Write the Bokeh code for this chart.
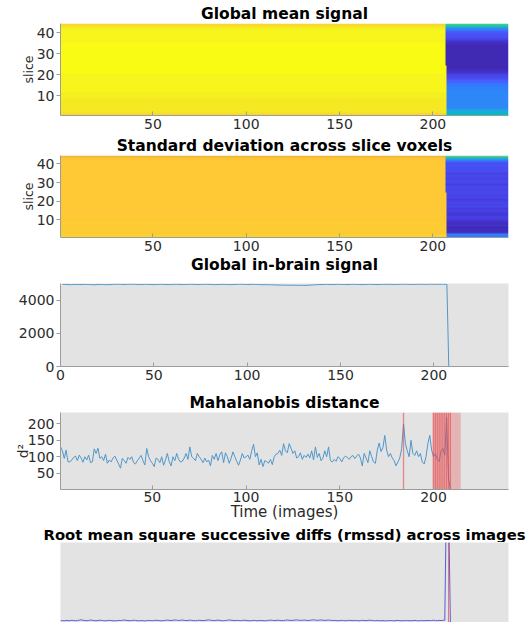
import numpy as np
from bokeh.plotting import figure
from bokeh.layouts import column
from bokeh.models import LinearColorMapper, FixedTicker, Range1d, Title
from bokeh.embed import file_html
from bokeh.resources import INLINE

# ---------------- data ----------------
n_slices = 44
n_images = 240
last_brain_image_upper = 206   # slices 25..44
last_brain_image_lower = 207   # slices 1..24
split_slice = 24

# per-slice colour-scale values (0..1) of the slice-mean heat map, slice 1 first
mean_brain = [0.90, 0.93, 0.94, 0.95, 0.95, 0.95, 0.95, 0.95, 0.96, 0.96,
              0.96, 0.97, 0.97, 0.97, 0.98, 0.98, 0.98, 0.98, 0.98, 0.98,
              0.99, 0.99, 0.99, 0.99, 0.99, 0.99, 0.99, 0.99, 0.99, 0.99,
              0.99, 0.99, 0.99, 0.99, 0.99, 0.98, 0.98, 0.98, 0.98, 0.97,
              0.97, 0.96, 0.93, 0.90]
mean_after = [0.47, 0.45, 0.40, 0.30, 0.29, 0.29, 0.29, 0.29, 0.29, 0.29,
              0.29, 0.29, 0.28, 0.28, 0.26, 0.22, 0.18, 0.14, 0.12, 0.10,
              0.06, 0.04, 0.03, 0.02, 0.02, 0.02, 0.02, 0.02, 0.02, 0.02,
              0.02, 0.02, 0.03, 0.03, 0.04, 0.06, 0.10, 0.13, 0.15, 0.17,
              0.22, 0.30, 0.50, 0.58]
# per-slice colour-scale values of the standard-deviation heat map
std_brain = [0.90, 0.88, 0.87, 0.89, 0.86, 0.88, 0.87, 0.89, 0.86, 0.87,
             0.86, 0.86, 0.86, 0.86, 0.86, 0.86, 0.86, 0.86, 0.86, 0.86,
             0.86, 0.86, 0.86, 0.86, 0.86, 0.86, 0.86, 0.86, 0.86, 0.86,
             0.86, 0.86, 0.86, 0.86, 0.86, 0.86, 0.86, 0.86, 0.87, 0.86,
             0.86, 0.87, 0.85, 0.80]
std_after = [0.28, 0.27, 0.06, 0.03, 0.04, 0.03, 0.05, 0.04, 0.06, 0.08,
             0.10, 0.09, 0.07, 0.08, 0.10, 0.09, 0.11, 0.10, 0.12, 0.10,
             0.09, 0.11, 0.10, 0.12, 0.11, 0.10, 0.12, 0.11, 0.09, 0.11,
             0.12, 0.10, 0.11, 0.12, 0.10, 0.13, 0.14, 0.13, 0.15, 0.14,
             0.16, 0.26, 0.42, 0.62]

global_signal = [
    4982, 4976, 4970, 4964, 4960, 4963, 4970, 4974, 4971, 4966,
    4968, 4974, 4979, 4975, 4969, 4962, 4957, 4955, 4959, 4966,
    4971, 4969, 4963, 4958, 4956, 4961, 4968, 4975, 4980, 4983,
    4985, 4981, 4975, 4971, 4974, 4979, 4984, 4987, 4983, 4978,
    4974, 4970, 4966, 4969, 4975, 4980, 4977, 4971, 4965, 4961,
    4964, 4970, 4976, 4981, 4979, 4973, 4968, 4964, 4967, 4973,
    4978, 4982, 4980, 4975, 4969, 4966, 4970, 4976, 4981, 4984,
    4982, 4976, 4970, 4967, 4971, 4977, 4982, 4985, 4981, 4975,
    4970, 4966, 4962, 4965, 4971, 4977, 4980, 4976, 4970, 4965,
    4962, 4966, 4972, 4978, 4983, 4986, 4984, 4979, 4974, 4970,
    4973, 4978, 4982, 4979, 4973, 4967, 4962, 4958, 4955, 4957,
    4961, 4956, 4950, 4946, 4942, 4939, 4936, 4933, 4931, 4930,
    4928, 4926, 4925, 4924, 4923, 4922, 4921, 4920, 4918, 4916,
    4918, 4922, 4928, 4935, 4942, 4949, 4955, 4960, 4964, 4967,
    4970, 4974, 4977, 4975, 4971, 4968, 4972, 4977, 4981, 4978,
    4973, 4968, 4965, 4969, 4974, 4979, 4983, 4980, 4975, 4970,
    4966, 4963, 4967, 4972, 4976, 4980, 4977, 4972, 4968, 4965,
    4968, 4973, 4978, 4982, 4985, 4982, 4977, 4972, 4969, 4972,
    4977, 4982, 4986, 4989, 4986, 4981, 4976, 4973, 4977, 4982,
    4985, 4988, 4984, 4979, 4975, 4978, 4983, 4987, 4990, 4986,
    4981, 4977, 4980, 4985, 4988, 4984, 4980,
    0, 0, 0, 0, 0, 0, 0, 0, 0, 0, 0, 0, 0, 0, 0, 0, 0,
    0, 0, 0, 0, 0, 0, 0, 0, 0, 0, 0, 0, 0, 0, 0, 0]

mahal = [
    130, 118, 95, 120, 85, 84, 90, 98, 102, 88,
    105, 96, 83, 100, 90, 105, 82, 84, 124, 110,
    126, 95, 100, 88, 108, 80, 90, 84, 96, 102,
    90, 78, 65, 95, 88, 80, 98, 92, 100, 82,
    78, 88, 96, 104, 88, 75, 125, 100, 88, 80,
    70, 96, 92, 82, 100, 74, 90, 110, 85, 72,
    100, 88, 110, 92, 84, 86, 96, 110, 92, 130,
    100, 95, 88, 110, 100, 92, 82, 96, 84, 90,
    72, 104, 92, 110, 88, 106, 115, 82, 112, 100,
    80, 95, 115, 100, 86, 74, 90, 110, 96, 100,
    105, 92, 118, 138, 100, 112, 75, 92, 70, 88,
    85, 80, 92, 76, 100, 108, 110, 120, 104, 140,
    118, 112, 140, 126, 110, 118, 96, 100, 112, 92,
    104, 98, 108, 96, 118, 90, 130, 98, 110, 88,
    96, 118, 100, 130, 88, 84, 92, 86, 100, 95,
    84, 96, 102, 98, 92, 100, 104, 94, 102, 108,
    96, 72, 110, 96, 82, 118, 100, 84, 80, 120,
    142, 116, 128, 165, 120, 100, 110, 96, 88, 72,
    84, 96, 125, 200, 140, 118, 100, 150, 110, 104,
    118, 100, 110, 84, 78, 100, 140, 165, 120, 100,
    110, 92, 85, 118, 125, 105, 220, 35,
    0, 0, 0, 0, 0, 0, 0, 0, 0, 0, 0, 0, 0, 0, 0, 0,
    0, 0, 0, 0, 0, 0, 0, 0, 0, 0, 0, 0, 0, 0, 0, 0]
mahal_flag_lines = [184, 200, 201, 202, 203, 204, 205, 206, 207, 208, 209]
mahal_flag_band = [200, 201, 202, 203, 204, 205, 206, 207, 208, 209,
                   210, 211, 212, 213, 214]

rmssd = [
    2.1, 2.4, 2.0, 2.6, 2.3, 2.2, 2.8, 2.5, 2.1, 2.4,
    2.9, 3.4, 2.8, 2.5, 2.2, 2.6, 3.0, 2.7, 2.4, 2.2,
    2.5, 2.9, 2.6, 2.3, 2.1, 2.4, 2.7, 2.5, 2.2, 2.0,
    2.3, 2.6, 2.4, 2.8, 3.1, 2.7, 2.4, 2.2, 2.5, 2.9,
    2.6, 2.3, 2.1, 2.4, 2.2, 2.0, 2.3, 2.6, 2.4, 2.2,
    2.5, 2.8, 2.6, 2.3, 2.1, 2.4, 2.7, 3.0, 2.7, 2.4,
    2.8, 3.2, 2.9, 2.5, 2.8, 3.1, 2.7, 2.4, 2.6, 3.0,
    2.7, 2.4, 2.2, 2.5, 2.8, 2.5, 2.3, 2.6, 2.9, 3.3,
    2.9, 2.6, 2.3, 2.7, 3.0, 2.6, 2.4, 2.2, 2.5, 2.8,
    3.2, 2.9, 2.6, 2.4, 2.7, 2.5, 2.3, 2.6, 2.9, 2.6,
    2.3, 2.1, 2.4, 2.7, 2.5, 2.2, 2.4, 2.6, 2.3, 2.1,
    2.4, 2.7, 3.0, 2.7, 2.4, 2.6, 2.9, 2.6, 2.3, 2.5,
    2.8, 3.1, 2.8, 2.5, 2.7, 3.0, 3.3, 2.9, 2.6, 2.8,
    3.1, 2.8, 2.5, 2.7, 3.0, 3.4, 3.0, 2.7, 2.9, 3.2,
    2.9, 2.6, 2.8, 3.1, 2.8, 2.5, 2.7, 2.4, 2.2, 2.5,
    2.7, 2.4, 2.2, 2.5, 2.8, 2.5, 2.3, 2.6, 2.4, 2.2,
    2.4, 2.7, 2.5, 2.3, 2.6, 2.9, 2.6, 2.4, 2.2, 2.5,
    2.3, 2.1, 2.4, 2.2, 2.0, 2.3, 2.5, 2.3, 2.1, 2.4,
    2.6, 2.3, 2.1, 2.4, 2.2, 2.5, 2.3, 2.1, 2.4, 2.6,
    2.3, 2.1, 2.3, 2.5, 2.2, 2.4, 2.6, 2.3, 2.5, 2.8,
    2.5, 2.3, 2.6, 2.4, 2.7, 3.0, 175, 150,
    0, 0, 0, 0, 0, 0, 0, 0, 0, 0, 0, 0, 0, 0, 0, 0,
    0, 0, 0, 0, 0, 0, 0, 0, 0, 0, 0, 0, 0, 0, 0]
rmssd_flags = [208]

slice_ticks = [10, 20, 30, 40]
image_ticks = [50, 100, 150, 200]
image_ticks0 = [0, 50, 100, 150, 200]
signal_ticks = [0, 2000, 4000]
mahal_ticks = [50, 100, 150, 200]

# ---------------- colour map (parula) ----------------
PARULA = [
    (0.2422, 0.1504, 0.6603), (0.2504, 0.1650, 0.7076), (0.2578, 0.1818, 0.7511),
    (0.2647, 0.1978, 0.7952), (0.2706, 0.2147, 0.8364), (0.2751, 0.2342, 0.8710),
    (0.2783, 0.2559, 0.8991), (0.2803, 0.2782, 0.9221), (0.2813, 0.3006, 0.9414),
    (0.2810, 0.3228, 0.9579), (0.2795, 0.3447, 0.9717), (0.2760, 0.3667, 0.9829),
    (0.2699, 0.3892, 0.9906), (0.2602, 0.4123, 0.9952), (0.2440, 0.4358, 0.9988),
    (0.2206, 0.4603, 0.9973), (0.1963, 0.4847, 0.9892), (0.1834, 0.5074, 0.9798),
    (0.1786, 0.5289, 0.9682), (0.1764, 0.5499, 0.9520), (0.1687, 0.5703, 0.9359),
    (0.1540, 0.5902, 0.9218), (0.1460, 0.6091, 0.9079), (0.1380, 0.6276, 0.8973),
    (0.1248, 0.6459, 0.8883), (0.1113, 0.6635, 0.8763), (0.0952, 0.6798, 0.8598),
    (0.0689, 0.6948, 0.8394), (0.0297, 0.7082, 0.8163), (0.0036, 0.7203, 0.7917),
    (0.0067, 0.7312, 0.7660), (0.0433, 0.7411, 0.7394), (0.0964, 0.7500, 0.7120),
    (0.1408, 0.7584, 0.6842), (0.1717, 0.7670, 0.6554), (0.1938, 0.7758, 0.6251),
    (0.2161, 0.7843, 0.5923), (0.2470, 0.7918, 0.5567), (0.2906, 0.7973, 0.5188),
    (0.3406, 0.8008, 0.4789), (0.3909, 0.8029, 0.4354), (0.4456, 0.8024, 0.3909),
    (0.5044, 0.7993, 0.3480), (0.5616, 0.7942, 0.3045), (0.6174, 0.7876, 0.2612),
    (0.6720, 0.7793, 0.2227), (0.7242, 0.7698, 0.1910), (0.7738, 0.7598, 0.1646),
    (0.8203, 0.7498, 0.1535), (0.8634, 0.7406, 0.1596), (0.9035, 0.7330, 0.1774),
    (0.9393, 0.7288, 0.2100), (0.9728, 0.7298, 0.2394), (0.9956, 0.7434, 0.2371),
    (0.9970, 0.7659, 0.2199), (0.9952, 0.7893, 0.2028), (0.9892, 0.8136, 0.1885),
    (0.9786, 0.8386, 0.1766), (0.9676, 0.8639, 0.1643), (0.9610, 0.8890, 0.1537),
    (0.9597, 0.9135, 0.1423), (0.9628, 0.9373, 0.1265), (0.9691, 0.9606, 0.1064),
    (0.9769, 0.9839, 0.0805)]
palette = ['#%02x%02x%02x' % tuple(int(round(c * 255)) for c in rgb) for rgb in PARULA]

FONT = "DejaVu Sans"
AXIS_COLOR = "#9c9c9c"
LABEL_COLOR = "#2b2b2b"
PANEL_BG = "#e3e3e3"
LINE_BLUE = "#4f97cb"
RED = "#e8464a"


def build_map(brain_vals, after_vals):
    arr = np.zeros((n_slices, n_images))
    for s in range(n_slices):
        cut = last_brain_image_lower if (s + 1) <= split_slice else last_brain_image_upper
        arr[s, :cut] = brain_vals[s]
        arr[s, cut:] = after_vals[s]
    return arr


def style_title(t, size="15.5px"):
    t.text_font = FONT
    t.text_font_size = size
    t.text_font_style = "bold"
    t.text_color = "black"
    t.align = "center"


def make_fig(title, height, top, bottom, x_range, y_range, bg="white", title_standoff=1):
    kwargs = {}
    if title is not None:
        kwargs["title"] = title
    p = figure(width=531, height=height, x_range=x_range, y_range=y_range,
               output_backend="svg", toolbar_location=None,
               min_border_left=60, min_border_right=23,
               min_border_top=top, min_border_bottom=bottom,
               background_fill_color=bg, border_fill_color="white",
               outline_line_color=None, **kwargs)
    if title is not None:
        style_title(p.title)
        p.title.standoff = title_standoff
    p.xgrid.visible = False
    p.ygrid.visible = False
    for ax in (p.xaxis[0], p.yaxis[0]):
        ax.axis_line_color = AXIS_COLOR
        ax.major_tick_line_color = AXIS_COLOR
        ax.minor_tick_line_color = None
        ax.major_label_text_font = FONT
        ax.major_label_text_font_size = "14px"
        ax.major_label_text_color = LABEL_COLOR
        ax.major_label_standoff = 2
        ax.axis_label_text_font = FONT
        ax.axis_label_text_font_style = "normal"
        ax.axis_label_text_color = LABEL_COLOR
    p.xaxis.major_label_standoff = 3
    p.xaxis.major_tick_in = 4
    p.xaxis.major_tick_out = 0
    p.yaxis.major_tick_in = 0
    p.yaxis.major_tick_out = 4
    return p


def below_title(p, text, size="15.5px"):
    t = Title(text=text, standoff=0)
    style_title(t, size)
    p.add_layout(t, "below")


mapper = LinearColorMapper(palette=palette, low=0.0, high=1.0)

# ---- panel 1: global mean signal ----
p1 = make_fig("Global mean signal", 134, 23, 19,
              Range1d(0.5, n_images + 0.5), Range1d(0.5, n_slices + 0.5))
p1.image(image=[build_map(mean_brain, mean_after)], x=0.5, y=0.5,
         dw=n_images, dh=n_slices, color_mapper=mapper)
p1.xaxis.ticker = FixedTicker(ticks=image_ticks)
p1.yaxis.ticker = FixedTicker(ticks=slice_ticks)
p1.yaxis.axis_label = "slice"
p1.yaxis.axis_label_text_font_size = "12.5px"
p1.yaxis.axis_label_standoff = -2

# ---- panel 2: std across slice voxels (its lower strip holds panel 3's title) ----
p2 = make_fig("Standard deviation across slice voxels", 142, 21, 39,
              Range1d(0.5, n_images + 0.5), Range1d(0.5, n_slices + 0.5))
p2.image(image=[build_map(std_brain, std_after)], x=0.5, y=0.5,
         dw=n_images, dh=n_slices, color_mapper=mapper)
p2.xaxis.ticker = FixedTicker(ticks=image_ticks)
p2.yaxis.ticker = FixedTicker(ticks=slice_ticks)
p2.yaxis.axis_label = "slice"
p2.yaxis.axis_label_text_font_size = "12.5px"
p2.yaxis.axis_label_standoff = -2
below_title(p2, "Global in-brain signal")

images = list(range(1, n_images + 1))

# ---- panel 3: global in-brain signal ----
p3 = make_fig(None, 109, 7, 19,
              Range1d(0, n_images), Range1d(0, 5030), bg=PANEL_BG)
p3.line(images, global_signal, line_color=LINE_BLUE, line_width=1)
p3.xaxis.ticker = FixedTicker(ticks=image_ticks0)
p3.yaxis.ticker = FixedTicker(ticks=signal_ticks)

# ---- panel 4: Mahalanobis distance (its lower strip holds panel 5's title) ----
p4 = make_fig("Mahalanobis distance", 157, 27, 48,
              Range1d(1, n_images), Range1d(0, 235), bg=PANEL_BG)
p4.line(images, mahal, line_color=LINE_BLUE, line_width=1)
p4.vbar(x=mahal_flag_band, width=1, bottom=0, top=235,
        fill_color=RED, fill_alpha=0.3, line_color=None)
p4.segment(x0=mahal_flag_lines, y0=[0] * len(mahal_flag_lines),
           x1=mahal_flag_lines, y1=[235] * len(mahal_flag_lines),
           line_color=RED, line_alpha=0.6, line_width=1.3)
p4.xaxis.ticker = FixedTicker(ticks=image_ticks)
p4.yaxis.ticker = FixedTicker(ticks=mahal_ticks)
p4.xaxis.major_label_standoff = 2
p4.xaxis.axis_label = "Time (images)"
p4.xaxis.axis_label_text_font_size = "15px"
p4.xaxis.axis_label_standoff = -2
p4.yaxis.axis_label = "d²"
p4.yaxis.axis_label_text_font_size = "14px"
p4.yaxis.axis_label_standoff = -6
below_title(p4, "Root mean square successive diffs (rmssd) across images", "14.8px")

# ---- panel 5: rmssd ----
rm_images = list(range(1, len(rmssd) + 1))
p5 = make_fig(None, 80, 0, 0,
              Range1d(1, n_images), Range1d(0, 100), bg=PANEL_BG)
p5.line(rm_images, rmssd, line_color="#5b5bd6", line_width=1)
p5.segment(x0=rmssd_flags, y0=[0] * len(rmssd_flags),
           x1=rmssd_flags, y1=[100] * len(rmssd_flags),
           line_color=RED, line_alpha=0.7, line_width=1)
p5.xaxis.visible = False
p5.yaxis.visible = False

layout = column(p1, p2, p3, p4, p5, spacing=0)
open("out.html", "w").write(file_html(layout, INLINE))
